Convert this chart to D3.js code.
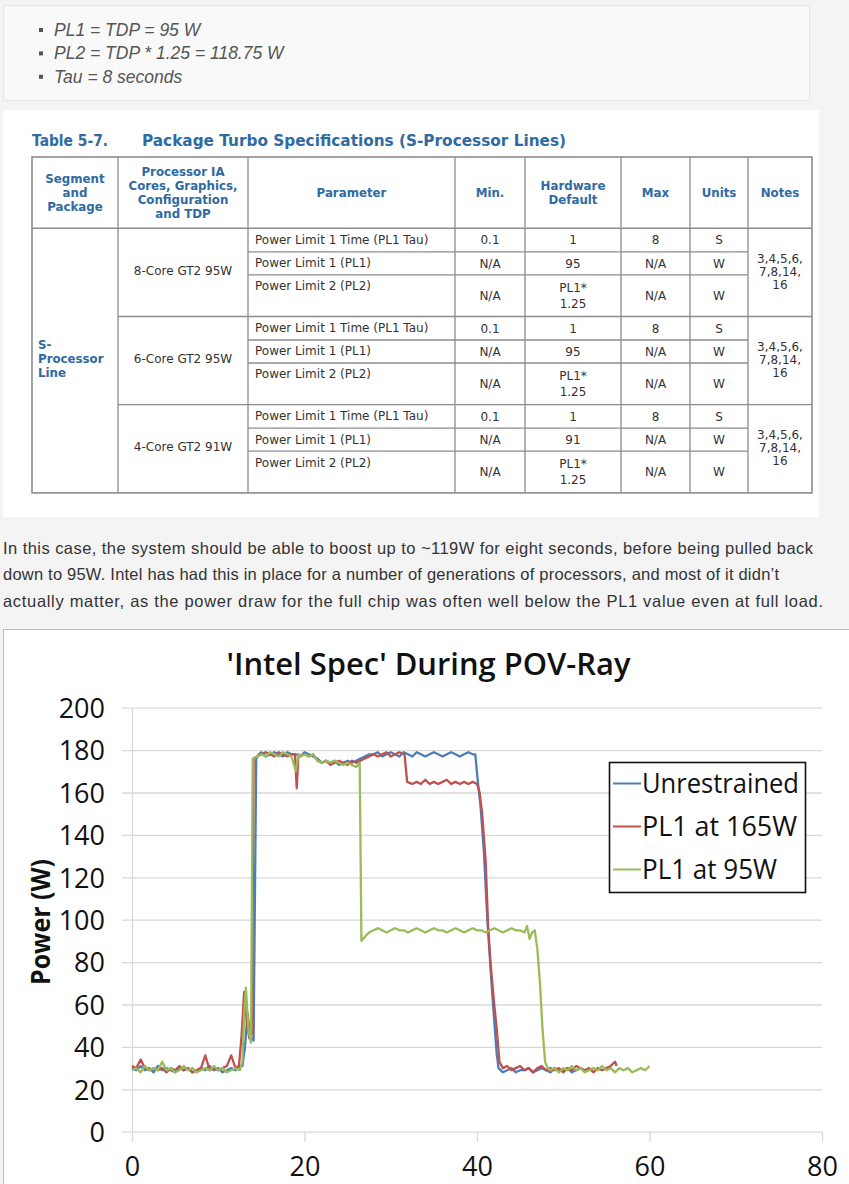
<!DOCTYPE html>
<html>
<head>
<meta charset="utf-8">
<script src="https://cdn.jsdelivr.net/npm/d3@7"></script>
<style>
    html, body { margin: 0; padding: 0; background: #f4f4f4; overflow: hidden; }
    svg { display: block; }
</style>
</head>
<body>
<div class="page"></div>
<script>
// Bullet list and article text
let bulletItems = ['PL1 = TDP = 95 W', 'PL2 = TDP * 1.25 = 118.75 W', 'Tau = 8 seconds'],
    paragraphLines = [
        'In this case, the system should be able to boost up to ~119W for eight seconds, before being pulled back',
        'down to 95W. Intel has had this in place for a number of generations of processors, and most of it didn\u2019t',
        'actually matter, as the power draw for the full chip was often well below the PL1 value even at full load.'
    ];

// Table 5-7
let tableTitle = ['Table 5-7.', 'Package Turbo Specifications (S-Processor Lines)'],
    tableHeaders = [
        ['Segment', 'and', 'Package'],
        ['Processor IA', 'Cores, Graphics,', 'Configuration', 'and TDP'],
        ['Parameter'], ['Min.'], ['Hardware', 'Default'], ['Max'], ['Units'], ['Notes']
    ],
    segmentName = ['S-', 'Processor', 'Line'],
    processorConfigs = ['8-Core GT2 95W', '6-Core GT2 95W', '4-Core GT2 91W'],
    parameterNames = ['Power Limit 1 Time (PL1 Tau)', 'Power Limit 1 (PL1)', 'Power Limit 2 (PL2)'],
    minValues = ['0.1', 'N/A', 'N/A'],
    defaultValues = [['1', '95', 'PL1*|1.25'], ['1', '95', 'PL1*|1.25'], ['1', '91', 'PL1*|1.25']],
    maxValues = ['8', 'N/A', 'N/A'],
    unitValues = ['S', 'W', 'W'],
    noteLines = ['3,4,5,6,', '7,8,14,', '16'];

// Chart: [seconds, watts]
let seriesNames = ['Unrestrained', 'PL1 at 165W', 'PL1 at 95W'],
    seriesColors = ['#4a7ebb', '#c0504d', '#9bbb59'],
    yTicks = [0, 20, 40, 60, 80, 100, 120, 140, 160, 180, 200],
    xTicks = [0, 20, 40, 60, 80];

let unrestrained = [
    [0,30],[0.5,29],[1,31],[1.5,29],[2,30],[2.5,28],[3,31],[3.5,29],[4,30],[4.5,29],[5,28],[5.5,30],
    [6,29],[6.5,30],[7,28],[7.5,29],[8,30],[8.5,29],[9,31],[9.5,29],[10,30],[10.5,28],[11,29],[11.5,30],
    [12,29],[12.5,31],[12.8,31],[13.1,40],[13.4,56],[13.7,45],[14.1,43],[14.4,176],[14.7,178],[15,179],
    [15.5,177],[16,178],[16.5,179],[17,178],[17.5,177],[18,179],[18.5,178],[19,178],[19.5,177],[20,179],
    [20.5,178],[21,177],[21.5,176],[22,174],[22.5,175],[23,174],[23.5,175],[24,173],[24.5,174],[25,175],
    [25.5,174],[26,175],[26.5,176],[27,177],[27.5,178],[28,178],[28.5,179],[29,177],[29.5,178],[30,179],
    [30.5,178],[31,177],[31.5,179],[32,178],[32.5,177],[33,179],[33.5,178],[34,177],[34.5,178],[35,179],
    [35.5,178],[36,177],[36.5,178],[37,179],[37.5,178],[38,177],[38.5,178],[39,179],[39.5,178],[39.8,178],
    [40.1,165],[40.4,154],[40.8,132],[41.2,100],[41.6,75],[42,52],[42.3,36],[42.5,30],[43,28],[43.5,29],
    [44,30],[44.5,28],[45,29],[45.5,29],[46,30],[46.5,28],[47,29],[47.5,30],[48,29],[48.5,28],[49,30],
    [49.5,29],[50,29],[50.5,30],[51,28],[51.5,29],[52,30]
];

let pl1At165 = [
    [0,31],[0.5,30],[1,34],[1.5,30],[2,29],[2.5,30],[3,29],[3.5,30],[4,28],[4.5,30],[5,29],[5.5,31],
    [6,29],[6.5,30],[7,28],[7.5,29],[8,30],[8.5,36],[9,29],[9.5,30],[10,29],[10.5,30],[11,31],[11.5,36],
    [12,30],[12.4,31],[12.7,45],[13,66],[13.3,52],[13.6,44],[13.9,46],[14.1,176],[14.5,177],[15,178],
    [15.5,179],[16,178],[16.5,177],[17,179],[17.5,178],[18,177],[18.5,178],[18.9,178],[19.1,162],[19.3,178],
    [19.5,177],[20,178],[20.5,177],[21,178],[21.5,175],[22,174],[22.5,175],[23,173],[23.5,174],[24,175],
    [24.5,174],[25,173],[25.5,175],[26,174],[26.5,175],[27,176],[27.5,177],[28,178],[28.5,177],[29,178],
    [29.5,179],[30,177],[30.5,178],[31,179],[31.6,178],[31.9,165],[32.5,164],[33,165],[33.5,164],[34,166],
    [34.5,164],[35,165],[35.5,164],[36,165],[36.5,166],[37,164],[37.5,165],[38,164],[38.5,165],[39,164],
    [39.5,165],[40,164],[40.3,160],[40.6,150],[41,128],[41.3,96],[41.6,78],[42,60],[42.3,48],[42.6,33],
    [43,30],[43.5,31],[44,29],[44.5,30],[45,31],[45.5,29],[46,30],[46.5,28],[47,30],[47.5,31],[48,29],
    [48.5,30],[49,29],[49.5,30],[50,28],[50.5,30],[51,29],[51.5,31],[52,30],[52.5,29],[53,30],[53.5,28],
    [54,30],[54.5,29],[55,30],[55.5,31],[56,33],[56.2,31]
];

let pl1At95 = [
    [0,29],[0.5,30],[1,28],[1.5,31],[2,29],[2.5,30],[3,29],[3.5,33],[4,29],[4.5,30],[5,28],[5.5,29],
    [6,31],[6.5,29],[7,30],[7.5,28],[8,29],[8.5,30],[9,29],[9.5,31],[10,29],[10.5,30],[11,28],[11.5,29],
    [12,30],[12.5,29],[12.8,33],[13,55],[13.2,68],[13.5,48],[13.8,42],[14,176],[14.5,177],[15,178],
    [15.5,177],[16,179],[16.5,178],[17,177],[17.5,179],[18,178],[18.5,177],[19,170],[19.3,178],[19.5,177],
    [20,178],[20.5,177],[21,178],[21.5,175],[22,174],[22.5,175],[23,174],[23.5,175],[24,174],[24.5,173],
    [25,174],[25.5,173],[26,172],[26.4,174],[26.6,90],[27,92],[27.5,94],[28,95],[28.5,96],[29,95],
    [29.5,94],[30,95],[30.5,96],[31,95],[31.5,95],[32,94],[32.5,95],[33,96],[33.5,95],[34,94],[34.5,95],
    [35,96],[35.5,95],[36,95],[36.5,94],[37,95],[37.5,96],[38,95],[38.5,94],[39,95],[39.5,96],[40,95],
    [40.5,95],[41,94],[41.5,95],[42,96],[42.5,95],[43,94],[43.5,95],[44,96],[44.5,95],[45,95],[45.5,94],
    [45.8,97],[46.1,91],[46.4,94],[46.7,95],[47,86],[47.3,70],[47.6,48],[47.9,33],[48.2,30],[48.5,29],
    [49,30],[49.5,28],[50,30],[50.5,29],[51,31],[51.5,29],[52,30],[52.5,28],[53,29],[53.5,30],[54,29],
    [54.5,31],[55,29],[55.5,30],[56,28],[56.5,30],[57,29],[57.5,30],[58,28],[58.5,29],[59,30],[59.5,29],
    [60,31]
];

let width = 849, height = 1184;

let page = d3.select('.page')
    .append('svg')
    .attr('width', width)
    .attr('height', height);

drawBullets();
drawTable();
drawParagraph();
drawChart();

function drawBullets() {
    page.append('rect')
        .attr('x', 3.5).attr('y', 5.5)
        .attr('width', 806).attr('height', 95)
        .attr('fill', '#f9f9f9')
        .attr('stroke', '#e6e6e6');

    let g = page.append('g');
    bulletItems.forEach((d, i) => {
        let cy = 30 + i * 23.4;
        g.append('rect')
            .attr('x', 39).attr('y', cy - 2)
            .attr('width', 4).attr('height', 4)
            .attr('fill', '#555');
        g.append('text')
            .attr('x', 54).attr('y', cy + 6)
            .attr('font-family', '"Liberation Sans", Arial, sans-serif')
            .attr('font-style', 'italic')
            .attr('font-size', 17.5)
            .attr('fill', '#555')
            .text(d);
    });
}

function drawTable() {
    let cols = [32, 118, 248, 455, 525, 621, 690, 748, 812],
        headTop = 157, bodyTop = 228.3, groupH = 88.2,
        rowOffsets = [0, 23.5, 46.5],
        blue = '#2f6aa3',
        lineColor = '#8c8c8c',
        font = '"DejaVu Sans", Verdana, sans-serif',
        mid = (i) => (cols[i] + cols[i + 1]) / 2;

    page.append('rect')
        .attr('x', 3).attr('y', 110)
        .attr('width', 816).attr('height', 407)
        .attr('fill', '#fff');

    let g = page.append('g').attr('font-family', font);

    // Title
    g.append('text').attr('x', 32).attr('y', 146)
        .attr('font-size', 15).attr('font-weight', 'bold').attr('fill', blue)
        .attr('textLength', 76).attr('lengthAdjust', 'spacingAndGlyphs')
        .text(tableTitle[0]);
    g.append('text').attr('x', 142).attr('y', 146)
        .attr('font-size', 15).attr('font-weight', 'bold').attr('fill', blue)
        .attr('textLength', 424).attr('lengthAdjust', 'spacingAndGlyphs')
        .text(tableTitle[1]);

    let multiLine = (lines, cx, cy, spacing, attrs) => {
        let t = g.append('text')
            .attr('text-anchor', attrs.anchor || 'middle')
            .attr('font-size', attrs.size || 12)
            .attr('font-weight', attrs.weight || 'normal')
            .attr('fill', attrs.fill || '#333');
        lines.forEach((l, i) => {
            t.append('tspan')
                .attr('x', cx)
                .attr('y', cy + (i - (lines.length - 1) / 2) * spacing + 4.3)
                .text(l);
        });
    };

    // Header cells
    tableHeaders.forEach((lines, i) => {
        multiLine(lines, mid(i), 192.5, 14, {weight: 'bold', fill: blue, size: 11.8});
    });

    // Segment column
    multiLine(segmentName, 38, 359, 14, {anchor: 'start', weight: 'bold', fill: blue, size: 11.8});

    processorConfigs.forEach((cfg, gi) => {
        let top = bodyTop + gi * groupH,
            bottom = top + groupH;
        multiLine([cfg], mid(1), (top + bottom) / 2 - 2, 14, {});
        multiLine(noteLines, mid(7), (top + bottom) / 2 - 1, 13, {});

        parameterNames.forEach((p, ri) => {
            let rTop = top + rowOffsets[ri],
                rBottom = ri < 2 ? top + rowOffsets[ri + 1] : bottom,
                rMid = (rTop + rBottom) / 2;
            multiLine([p], 255, rTop + 11, 14, {anchor: 'start'});
            multiLine([minValues[ri]], mid(3), rMid, 14, {});
            multiLine(defaultValues[gi][ri].split('|'), mid(4), rMid, 16, {});
            multiLine([maxValues[ri]], mid(5), rMid, 14, {});
            multiLine([unitValues[ri]], mid(6), rMid, 14, {});

            if (ri > 0) {
                g.append('line')
                    .attr('x1', cols[2]).attr('x2', cols[7])
                    .attr('y1', rTop).attr('y2', rTop)
                    .attr('stroke', lineColor).attr('stroke-width', 1.3);
            }
        });

        if (gi > 0) {
            g.append('line')
                .attr('x1', cols[1]).attr('x2', cols[8])
                .attr('y1', top).attr('y2', top)
                .attr('stroke', lineColor).attr('stroke-width', 1.3);
        }
    });

    // Grid frame
    let tableBottom = bodyTop + 3 * groupH;
    g.append('line')
        .attr('x1', cols[0]).attr('x2', cols[8])
        .attr('y1', bodyTop).attr('y2', bodyTop)
        .attr('stroke', lineColor).attr('stroke-width', 1.5);
    g.selectAll('.colLine')
        .data(cols.slice(1, -1))
        .enter().append('line')
        .attr('x1', (d) => d).attr('x2', (d) => d)
        .attr('y1', headTop).attr('y2', tableBottom)
        .attr('stroke', lineColor).attr('stroke-width', 1.3);
    g.append('rect')
        .attr('x', cols[0]).attr('y', headTop)
        .attr('width', cols[8] - cols[0]).attr('height', tableBottom - headTop)
        .attr('fill', 'none')
        .attr('stroke', lineColor).attr('stroke-width', 1.6);
}

function drawParagraph() {
    let widths = [810, 776, 820];
    page.append('g')
        .selectAll('text')
        .data(paragraphLines)
        .enter().append('text')
        .attr('x', 3)
        .attr('y', (d, i) => 553.5 + i * 26.5)
        .attr('font-family', '"Liberation Sans", Arial, sans-serif')
        .attr('font-size', 16.5)
        .attr('fill', '#333')
        .attr('textLength', (d, i) => widths[i])
        .attr('lengthAdjust', 'spacing')
        .text((d) => d);
}

function drawChart() {
    let font = '"Open Sans", "Noto Sans", sans-serif',
        left = 132, right = 822, top = 707.7, bottom = 1131.7;

    page.append('rect')
        .attr('x', 3.5).attr('y', 629.5)
        .attr('width', 860).attr('height', 600)
        .attr('fill', '#fff')
        .attr('stroke', '#bcbcbc');

    let x = d3.scaleLinear().domain([0, 80]).range([left, right]),
        y = d3.scaleLinear().domain([0, 200]).range([bottom, top]);

    let chart = page.append('g').attr('font-family', font);

    // Title
    chart.append('text')
        .attr('x', 428.5).attr('y', 675)
        .attr('text-anchor', 'middle')
        .attr('font-size', 31)
        .attr('font-weight', 600)
        .attr('fill', '#111')
        .attr('textLength', 404)
        .attr('lengthAdjust', 'spacingAndGlyphs')
        .text("'Intel Spec' During POV-Ray");

    // Y axis with gridlines
    let yAxis = chart.append('g')
        .attr('transform', 'translate(' + left + ',0)')
        .call(d3.axisLeft(y).tickValues(yTicks).tickSize(-(right - left)).tickSizeOuter(0).tickPadding(27));
    yAxis.select('.domain').attr('stroke', '#d9d9d9').attr('stroke-width', 1.3);
    yAxis.selectAll('.tick line')
        .attr('x1', -10)
        .attr('stroke', '#d9d9d9').attr('stroke-width', 1.3);
    yAxis.selectAll('.tick text')
        .attr('font-family', font)
        .attr('font-size', 27)
        .attr('fill', '#111')
        .attr('dy', '0.36em');

    // X axis
    let xAxis = chart.append('g')
        .attr('transform', 'translate(0,' + bottom + ')')
        .call(d3.axisBottom(x).tickValues(xTicks).tickSize(10).tickSizeOuter(0).tickPadding(15));
    xAxis.select('.domain').remove();
    xAxis.selectAll('.tick line').attr('stroke', '#d9d9d9').attr('stroke-width', 1.3);
    xAxis.selectAll('.tick text')
        .attr('font-family', font)
        .attr('font-size', 27)
        .attr('fill', '#111');

    // Axis title
    chart.append('text')
        .attr('transform', 'translate(50,922) rotate(-90)')
        .attr('text-anchor', 'middle')
        .attr('font-size', 26)
        .attr('font-weight', 'bold')
        .attr('fill', '#111')
        .attr('textLength', 126)
        .attr('lengthAdjust', 'spacingAndGlyphs')
        .text('Power (W)');

    // Lines
    let line = d3.line()
        .x((d) => x(d[0]))
        .y((d) => y(d[1]));

    chart.append('g')
        .selectAll('path')
        .data([unrestrained, pl1At165, pl1At95])
        .enter().append('path')
        .attr('d', line)
        .attr('fill', 'none')
        .attr('stroke', (d, i) => seriesColors[i])
        .attr('stroke-width', 2.3)
        .attr('stroke-linejoin', 'round');

    // Legend
    let legend = chart.append('g');
    legend.append('rect')
        .attr('x', 609.5).attr('y', 762.5)
        .attr('width', 196).attr('height', 130)
        .attr('fill', '#fff')
        .attr('stroke', '#111').attr('stroke-width', 1.6);
    let textWidths = [157, 155, 135];
    seriesNames.forEach((name, i) => {
        let cy = 783.5 + i * 43;
        legend.append('line')
            .attr('x1', 613).attr('x2', 641)
            .attr('y1', cy).attr('y2', cy)
            .attr('stroke', seriesColors[i]).attr('stroke-width', 2);
        legend.append('text')
            .attr('x', 642).attr('y', cy + 9.5)
            .attr('font-size', 27)
            .attr('fill', '#111')
            .attr('textLength', textWidths[i])
            .attr('lengthAdjust', 'spacingAndGlyphs')
            .text(name);
    });
}
</script>
</body>
</html>
